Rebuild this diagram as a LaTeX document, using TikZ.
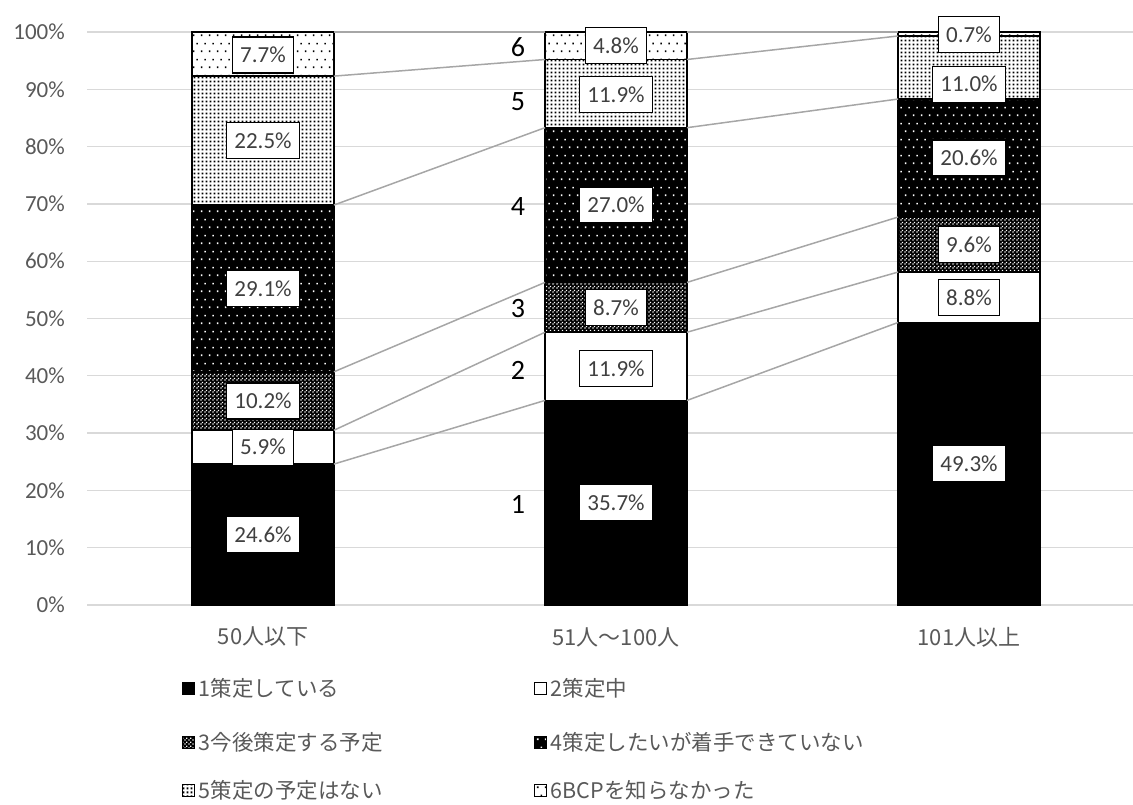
\documentclass[tikz,border=0pt]{standalone}
\usepackage{fontspec}
\setmainfont{Carlito}
\newfontfamily\jpfont{Noto Sans CJK JP}
\usepackage{tikz}
\usetikzlibrary{positioning, patterns}

\definecolor{gridgray}{HTML}{D9D9D9}
\definecolor{linegray}{HTML}{A6A6A6}
\definecolor{axisgray}{HTML}{595959}
\definecolor{labelgray}{HTML}{404040}

% fill patterns of the six answers
\pgfdeclarepatternformonly{checkholes}{\pgfpointorigin}{\pgfpoint{4pt}{4pt}}{\pgfpoint{4pt}{4pt}}{
  \pgfpathrectangle{\pgfpoint{0.4pt}{0.4pt}}{\pgfpoint{1.5pt}{1.5pt}}
  \pgfpathrectangle{\pgfpoint{2.4pt}{2.4pt}}{\pgfpoint{1.5pt}{1.5pt}}
  \pgfusepath{fill}}
\pgfdeclarepatternformonly{densedots}{\pgfpointorigin}{\pgfpoint{3.5pt}{3.5pt}}{\pgfpoint{3.5pt}{3.5pt}}{
  \pgfpathrectangle{\pgfpoint{0.7pt}{0.7pt}}{\pgfpoint{2pt}{2pt}}
  \pgfusepath{fill}}
\pgfdeclarepatternformonly{sparsedots}{\pgfpointorigin}{\pgfpoint{8pt}{16pt}}{\pgfpoint{8pt}{16pt}}{
  \pgfpathrectangle{\pgfpoint{1pt}{1pt}}{\pgfpoint{1.7pt}{1.7pt}}
  \pgfpathrectangle{\pgfpoint{5pt}{9pt}}{\pgfpoint{1.7pt}{1.7pt}}
  \pgfusepath{fill}}

\tikzset{
  seg/.style={draw=black, line width=1.5pt},
  seg1/.style={seg, fill=black},
  seg2/.style={seg, fill=white},
  seg3/.style={seg, preaction={fill=black}, pattern=checkholes, pattern color=white},
  seg4/.style={seg, preaction={fill=black}, pattern=sparsedots, pattern color=white},
  seg5/.style={seg, preaction={fill=white}, pattern=densedots, pattern color=black},
  seg6/.style={seg, preaction={fill=white}, pattern=sparsedots, pattern color=black},
  gridline/.style={draw=gridgray, line width=1.3pt},
  serline/.style={draw=linegray, line width=1.5pt},
  axislabel/.style={text=axisgray, font=\fontsize{23}{27}\selectfont, anchor=east, inner sep=0pt},
  vallabel/.style={draw=black, line width=1.2pt, fill=white, text=labelgray,
    font=\fontsize{23}{27}\selectfont, inner xsep=8pt, inner ysep=0pt, minimum height=36pt},
  numlabel/.style={text=black, font=\fontsize{28}{32}\selectfont},
  catlabel/.style={text=axisgray, font=\jpfont\fontsize{22}{26}\selectfont},
  legbox/.style={minimum size=12pt, inner sep=0pt, line width=1pt},
  leglabel/.style={text=axisgray, font=\jpfont\fontsize{21.5}{25}\selectfont, inner sep=0pt}
}

\begin{document}
\begin{tikzpicture}[x=1pt, y=5.73pt]
    \useasboundingbox (0,-34.904) rectangle (1133,105.585);
    % grid and axis labels
    \foreach \v in {0,10,...,100} {
      \draw[gridline] (87,\v) -- (1133,\v);
      \node[axislabel] (ax\v) at (65,\v) {\v\%};
    }
    % stacked bars
    \foreach \b/\i/\lo/\hi [evaluate=\b as \cx using 263+353*(\b-1)] in {
        1/1/0/24.6, 1/2/24.6/30.5, 1/3/30.5/40.7, 1/4/40.7/69.8, 1/5/69.8/92.3, 1/6/92.3/100,
        2/1/0/35.7, 2/2/35.7/47.6, 2/3/47.6/56.3, 2/4/56.3/83.3, 2/5/83.3/95.2, 2/6/95.2/100,
        3/1/0/49.3, 3/2/49.3/58.1, 3/3/58.1/67.7, 3/4/67.7/88.3, 3/5/88.3/99.3, 3/6/99.3/100} {
      \draw[seg\i] (\cx-71,\lo) rectangle (\cx+71,\hi);
      \coordinate (t\b-\i-l) at (\cx-71,\hi);
      \coordinate (t\b-\i-r) at (\cx+71,\hi);
    }
    % series lines
    \foreach \i in {1,...,6} {
      \draw[serline] (t1-\i-r) -- (t2-\i-l);
      \draw[serline] (t2-\i-r) -- (t3-\i-l);
    }
    % data labels
    \foreach \b/\i/\ly/\t [evaluate=\b as \cx using 263+353*(\b-1)] in {
        1/1/12.3/24.6, 1/2/27.55/5.9, 1/3/35.6/10.2, 1/4/55.25/29.1, 1/5/81.05/22.5, 1/6/96.0/7.7,
        2/1/17.85/35.7, 2/2/41.3/11.9, 2/3/51.95/8.7, 2/4/69.8/27.0, 2/5/89.1/11.9, 2/6/97.6/4.8,
        3/1/24.65/49.3, 3/2/53.7/8.8, 3/3/62.9/9.6, 3/4/78.0/20.6, 3/5/90.9/11.0, 3/6/99.5/0.7} {
      \node[vallabel] (v\b-\i) at (\cx,\ly) {\t\%};
    }
    % answer numbers beside the middle bar
    \foreach \i/\y in {1/17.6, 2/41.0, 3/51.8, 4/69.6, 5/87.8, 6/97.4} {
      \node[numlabel] (n\i) at (518,\y) {\i};
    }
    % categories
    \foreach \b/\t in {1/50人以下, 2/51人～100人, 3/101人以上} {
      \node[catlabel] (cat\b) at ({263+353*(\b-1)},-5.58) {\t};
    }
    % legend
    \foreach \i/\x/\y/\t in {1/188/-14.49/1策定している, 2/540/-14.49/2策定中,
        3/188/-23.91/3今後策定する予定, 4/540/-23.91/4策定したいが着手できていない,
        5/188/-32.29/5策定の予定はない, 6/540/-32.29/6BCPを知らなかった} {
      \node[seg\i, legbox] (m\i) at (\x,\y) {};
      \node[leglabel, right=4pt of m\i] (l\i) {\t};
    }
  \end{tikzpicture}
\end{document}
